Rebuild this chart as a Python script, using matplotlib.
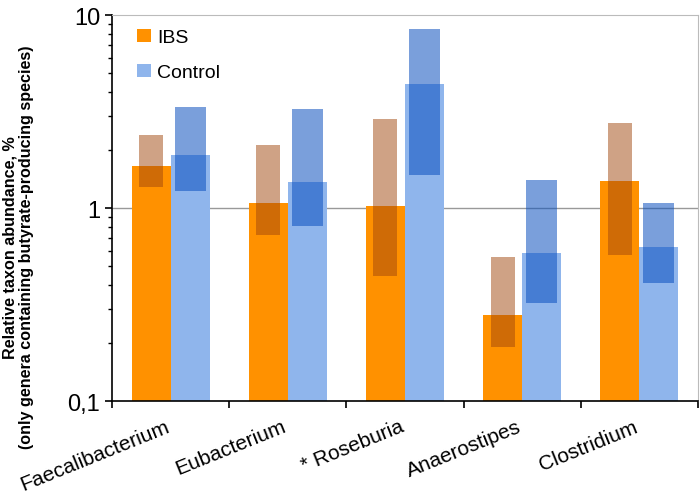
import numpy as np
import matplotlib.pyplot as plt
from matplotlib.ticker import FixedLocator, FixedFormatter, LogLocator, NullFormatter

plt.rcParams['font.family'] = ['Liberation Sans', 'DejaVu Sans']

genera = ['Faecalibacterium', 'Eubacterium', '* Roseburia', 'Anaerostipes', 'Clostridium']

# median abundances (%)
ibs_median = [1.65, 1.06, 1.02, 0.278, 1.38]
ctrl_median = [1.89, 1.36, 4.41, 0.582, 0.628]

# interquartile ranges (%)
ibs_q1 = [1.29, 0.727, 0.444, 0.190, 0.573]
ibs_q3 = [2.39, 2.12, 2.89, 0.555, 2.76]
ctrl_q1 = [1.22, 0.807, 1.49, 0.323, 0.410]
ctrl_q3 = [3.32, 3.26, 8.46, 1.40, 1.06]

x = np.arange(len(genera))
w = 1 / 3
base = 0.1

fig = plt.figure(figsize=(7, 5.02), dpi=100)
ax = fig.add_axes([0.16, 0.199, 0.837, 0.769])

ax.axhline(1, color='#999999', lw=1, zorder=0)

ax.bar(x - w / 2, np.array(ibs_median) - base, width=w, bottom=base,
       color='#FF9100', label='IBS', zorder=1)
ax.bar(x + w / 2, np.array(ctrl_median) - base, width=w, bottom=base,
       color='#8FB5EC', label='Control', zorder=1)

# interquartile boxes on top of the median bars
ax.bar(x - w / 2, np.array(ibs_q3) - np.array(ibs_q1), width=0.205, bottom=ibs_q1,
       color='#A0470C', alpha=0.5, lw=0, zorder=2)
ax.bar(x + w / 2, np.array(ctrl_q3) - np.array(ctrl_q1), width=0.265, bottom=ctrl_q1,
       color='#094FBE', alpha=0.54, lw=0, zorder=2)

ax.set_yscale('log')
ax.set_ylim(0.1, 10)
ax.set_xlim(-0.5, len(genera) - 0.5)

ax.yaxis.set_major_locator(FixedLocator([0.1, 1, 10]))
ax.yaxis.set_major_formatter(FixedFormatter(['0,1', '1', '10']))
ax.yaxis.set_minor_locator(LogLocator(base=10, subs=np.arange(2, 10)))
ax.yaxis.set_minor_formatter(NullFormatter())
ax.tick_params(axis='y', which='major', labelsize=17, length=5, width=1.2)
ax.tick_params(axis='y', which='minor', length=3, width=1)

ax.set_xticks(np.arange(len(genera) + 1) - 0.5)
ax.set_xticklabels([])
ax.tick_params(axis='x', which='major', length=5, width=1.2)
for i, name in enumerate(genera):
    ax.text(i - 0.05, -0.04, name, transform=ax.get_xaxis_transform(),
            rotation=22, ha='right', va='top', rotation_mode='anchor', fontsize=15)

ax.spines['left'].set_linewidth(1.2)
ax.spines['bottom'].set_linewidth(1.2)
ax.spines['top'].set_color('#BBBBBB')
ax.spines['right'].set_color('#BBBBBB')

ax.set_ylabel('Relative taxon abundance, %\n(only genera containing butyrate-producing species)',
              fontsize=11.6, fontweight='bold', linespacing=1.15)
ax.yaxis.set_label_coords(-0.133, 0.40)

ax.legend(loc='upper left', frameon=False, fontsize=14, handlelength=0.7, handleheight=0.7,
          handletextpad=0.3, labelspacing=0.9, borderaxespad=0.3, bbox_to_anchor=(0.02, 1.0))

plt.savefig('out.png', dpi=100)
